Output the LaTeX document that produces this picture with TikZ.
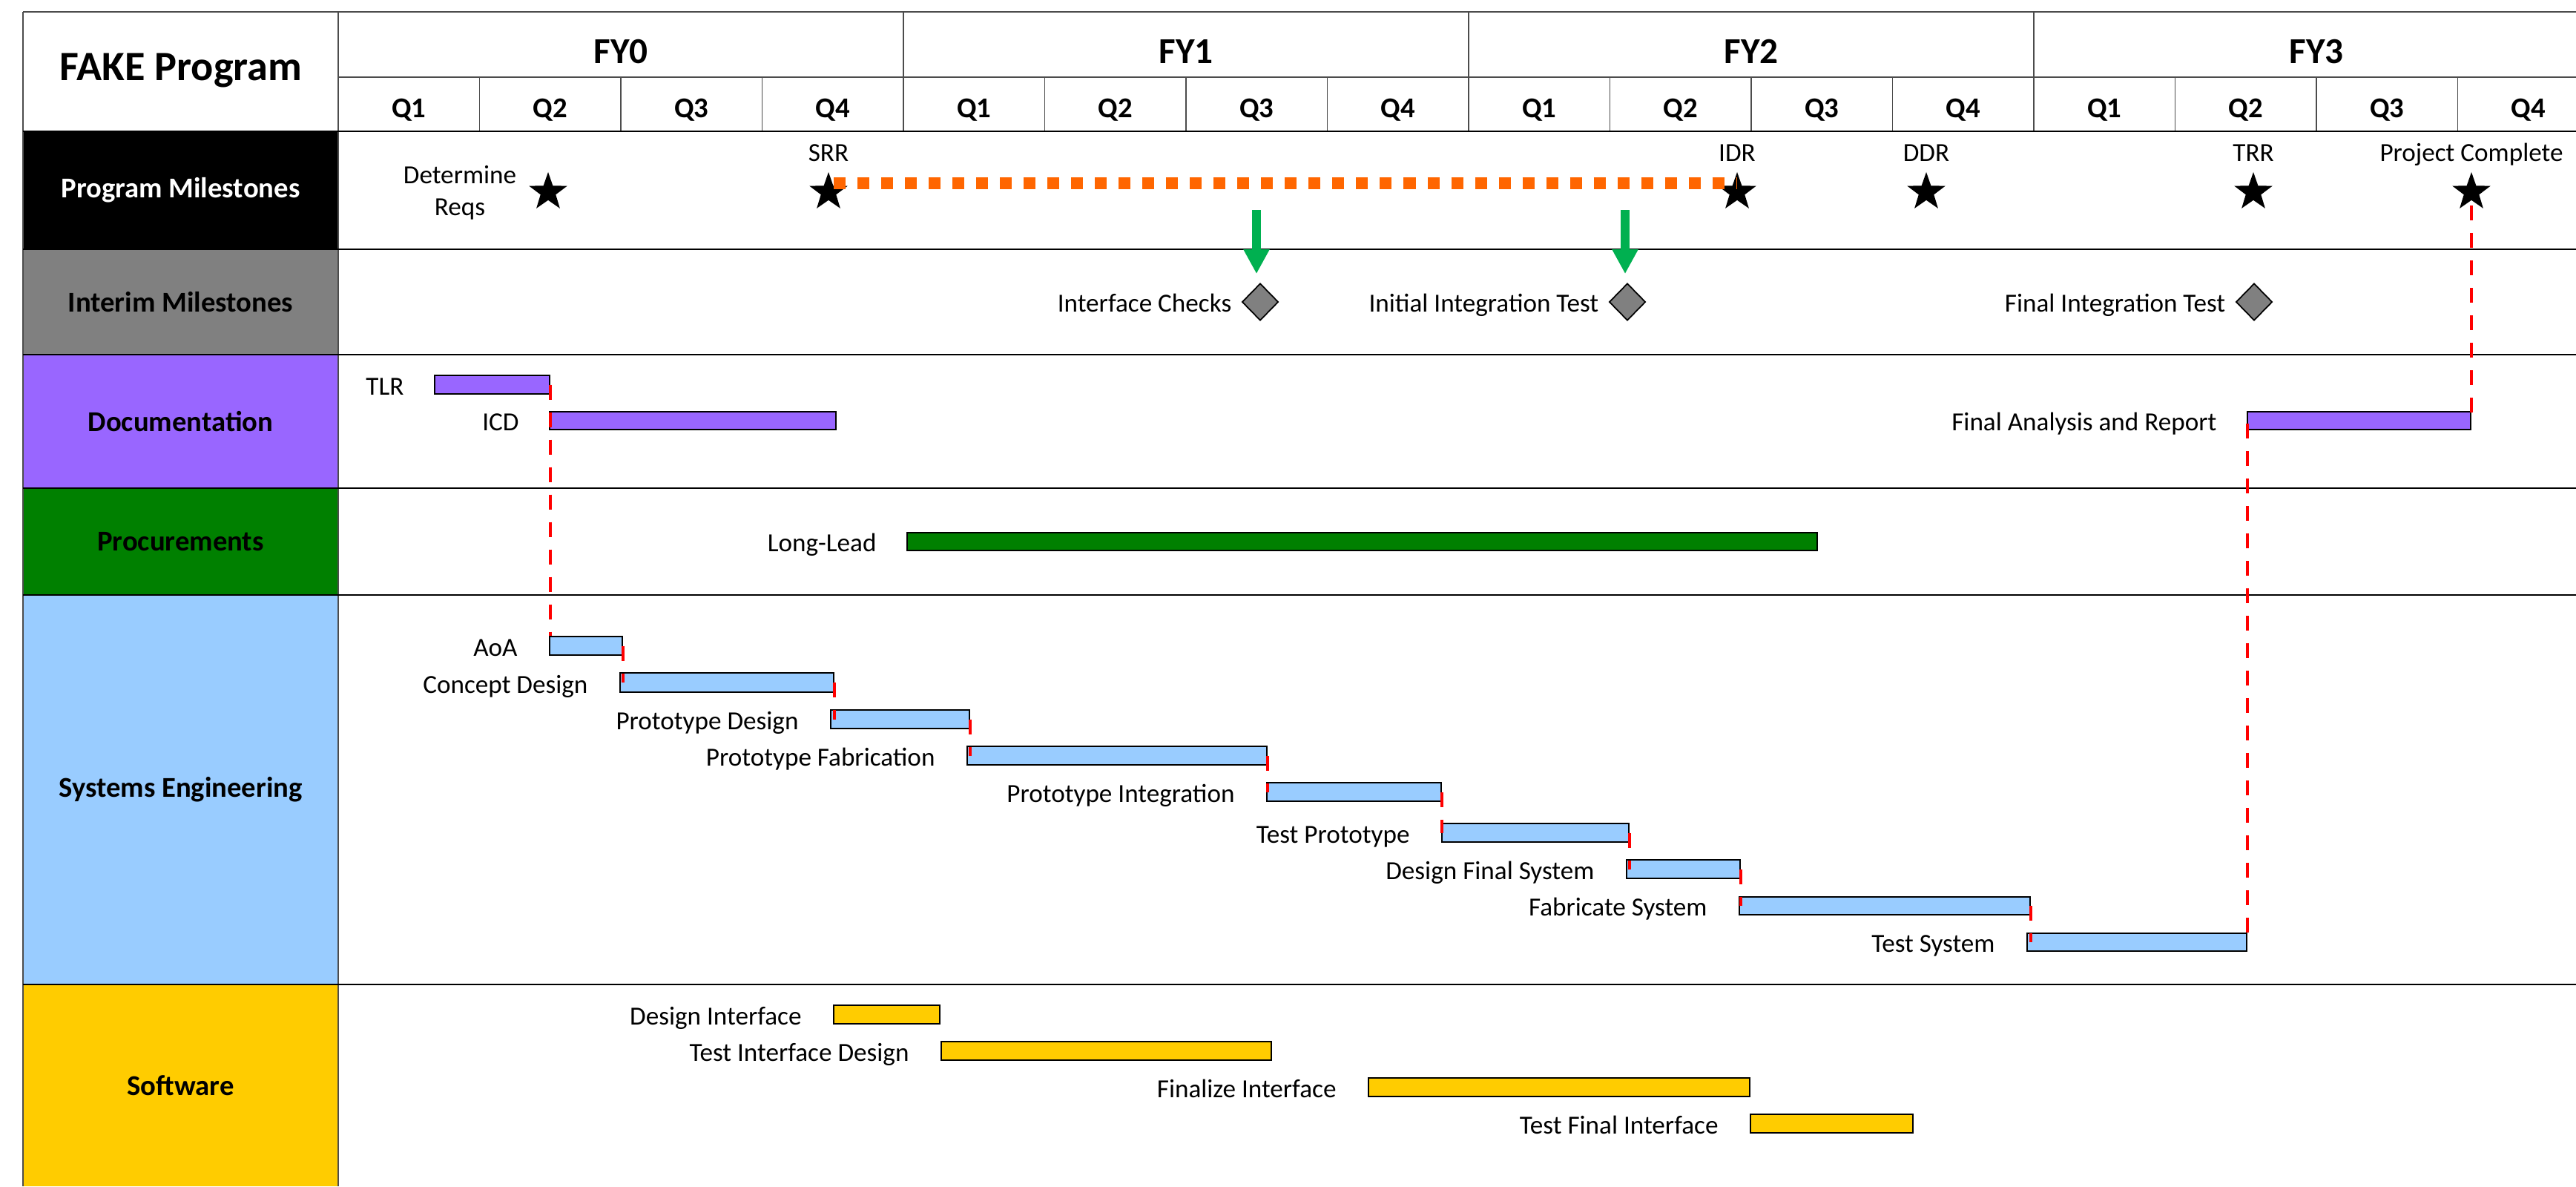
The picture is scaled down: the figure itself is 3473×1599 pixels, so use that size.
\documentclass[tikz,border=0pt]{standalone}
\usepackage{fontspec}
\setmainfont{Carlito}
\usetikzlibrary{shapes.geometric,arrows.meta,fit,positioning}

\definecolor{docpurple}{HTML}{9966FF}
\definecolor{procgreen}{HTML}{008000}
\definecolor{sysblue}{HTML}{99CCFF}
\definecolor{swyellow}{HTML}{FFCC00}
\definecolor{msorange}{HTML}{FF6600}
\definecolor{arrowgreen}{HTML}{00B050}

\tikzset{
    rowline/.style={line width=0.7pt, black},
    gridline/.style={line width=0.35pt, black!70},
    titlelbl/.style={font=\fontsize{16}{19}\selectfont\bfseries, anchor=base},
    fylbl/.style={font=\fontsize{14}{17}\selectfont\bfseries, anchor=base},
    qlbl/.style={font=\fontsize{11}{13}\selectfont\bfseries, anchor=base},
    rowlbl/.style={font=\fontsize{11}{13}\selectfont\bfseries},
    tasklbl/.style={font=\fontsize{10}{12.2}\selectfont, anchor=base east},
    mslbl/.style={font=\fontsize{10}{12.2}\selectfont, anchor=base},
    bar/.style={draw, line width=0.6pt, inner sep=0pt},
    link/.style={red, line width=0.04cm, dash pattern=on 0.2cm off 0.17cm},
    mstar/.style={star, star points=5, star point ratio=2.5, fill=black, inner sep=0pt, minimum size=0.54cm},
    gate/.style={diamond, draw, fill=gray, line width=0.5pt, inner sep=0pt, minimum width=0.49cm, minimum height=0.5cm},
    msdash/.style={msorange, line width=0.155cm, dash pattern=on 0.16cm off 0.16cm},
    grnarrow/.style={arrowgreen, line width=0.12cm, -{Triangle[width=0.33cm,length=0.33cm]}, shorten >=0.12cm}
}

\begin{document}
\begin{tikzpicture}[x=0.01cm, y=-0.01cm]
    \useasboundingbox (0,0) rectangle (3473,1599);
    % Row headers:
    \fill[black] (31,177) rectangle (456,336);
    \fill[gray] (31,336) rectangle (456,478);
    \fill[docpurple] (31,478) rectangle (456,658);
    \fill[procgreen] (31,658) rectangle (456,802);
    \fill[sysblue] (31,802) rectangle (456,1327);
    \fill[swyellow] (31,1327) rectangle (456,1599);
    % Grid:
    \draw[gridline] (31,16) -- (3473,16);
    \draw[gridline] (31,16) -- (31,1599);
    \draw[gridline] (456,16) -- (456,1599);
    \draw[gridline] (456,104) -- (3473,104);
    \draw[gridline] (1218,16) -- (1218,177);
    \draw[gridline] (1980,16) -- (1980,177);
    \draw[gridline] (2742,16) -- (2742,177);
    \draw[gridline] (646.5,104) -- (646.5,177);
    \draw[gridline] (837,104) -- (837,177);
    \draw[gridline] (1027.5,104) -- (1027.5,177);
    \draw[gridline] (1408.5,104) -- (1408.5,177);
    \draw[gridline] (1599,104) -- (1599,177);
    \draw[gridline] (1789.5,104) -- (1789.5,177);
    \draw[gridline] (2170.5,104) -- (2170.5,177);
    \draw[gridline] (2361,104) -- (2361,177);
    \draw[gridline] (2551.5,104) -- (2551.5,177);
    \draw[gridline] (2932.5,104) -- (2932.5,177);
    \draw[gridline] (3123,104) -- (3123,177);
    \draw[gridline] (3313.5,104) -- (3313.5,177);
    \draw[rowline] (31,177) -- (3473,177);
    \draw[rowline] (31,336) -- (3473,336);
    \draw[rowline] (31,478) -- (3473,478);
    \draw[rowline] (31,658) -- (3473,658);
    \draw[rowline] (31,802) -- (3473,802);
    \draw[rowline] (31,1327) -- (3473,1327);
    % Header texts:
    \node[titlelbl] (title) at (244,108) {FAKE Program};
    \node[fylbl] (fy0) at (837,85) {FY0};
    \node[fylbl] (fy1) at (1599,85) {FY1};
    \node[fylbl] (fy2) at (2361,85) {FY2};
    \node[fylbl] (fy3) at (3123,85) {FY3};
    \node[qlbl] (fy0q1) at (551.25,158) {Q1};
    \node[qlbl] (fy0q2) at (741.75,158) {Q2};
    \node[qlbl] (fy0q3) at (932.25,158) {Q3};
    \node[qlbl] (fy0q4) at (1122.75,158) {Q4};
    \node[qlbl] (fy1q1) at (1313.25,158) {Q1};
    \node[qlbl] (fy1q2) at (1503.75,158) {Q2};
    \node[qlbl] (fy1q3) at (1694.25,158) {Q3};
    \node[qlbl] (fy1q4) at (1884.75,158) {Q4};
    \node[qlbl] (fy2q1) at (2075.25,158) {Q1};
    \node[qlbl] (fy2q2) at (2265.75,158) {Q2};
    \node[qlbl] (fy2q3) at (2456.25,158) {Q3};
    \node[qlbl] (fy2q4) at (2646.75,158) {Q4};
    \node[qlbl] (fy3q1) at (2837.25,158) {Q1};
    \node[qlbl] (fy3q2) at (3027.75,158) {Q2};
    \node[qlbl] (fy3q3) at (3218.25,158) {Q3};
    \node[qlbl] (fy3q4) at (3408.75,158) {Q4};
    \node[rowlbl, text=white] (progms) at (243.5,256.5) {Program Milestones};
    \node[rowlbl] (interms) at (243.5,407) {Interim Milestones};
    \node[rowlbl] (docs) at (243.5,568) {Documentation};
    \node[rowlbl] (procs) at (243.5,730) {Procurements};
    \node[rowlbl] (syseng) at (243.5,1064.5) {Systems Engineering};
    \node[rowlbl] (software) at (243.5,1463) {Software};
    % Bars:
    \node[bar, fill=docpurple, fit={(586,506) (741,531)}] (tlr) {};
    \node[tasklbl] at ([xshift=-0.28cm]tlr.south west) {TLR};
    \node[bar, fill=docpurple, fit={(741,555) (1127,579)}] (icd) {};
    \node[tasklbl] at ([xshift=-0.28cm]icd.south west) {ICD};
    \node[bar, fill=docpurple, fit={(3030,555) (3331,579)}] (report) {};
    \node[tasklbl] at ([xshift=-0.28cm]report.south west) {Final Analysis and Report};
    \node[bar, fill=procgreen, fit={(1223,718) (2450,742)}] (longlead) {};
    \node[tasklbl] at ([xshift=-0.28cm]longlead.south west) {Long-Lead};
    \node[bar, fill=sysblue, fit={(741,858) (839,883)}] (aoa) {};
    \node[tasklbl] at ([xshift=-0.3cm]aoa.south west) {AoA};
    \node[bar, fill=sysblue, fit={(836,907) (1124,933)}] (concept) {};
    \node[tasklbl] at ([xshift=-0.3cm]concept.south west) {Concept Design};
    \node[bar, fill=sysblue, fit={(1120,957) (1307,982)}] (protodes) {};
    \node[tasklbl] at ([xshift=-0.3cm]protodes.south west) {Prototype Design};
    \node[bar, fill=sysblue, fit={(1304,1006) (1708,1031)}] (protofab) {};
    \node[tasklbl] at ([xshift=-0.3cm]protofab.south west) {Prototype Fabrication};
    \node[bar, fill=sysblue, fit={(1708,1055) (1943,1080)}] (protoint) {};
    \node[tasklbl] at ([xshift=-0.3cm]protoint.south west) {Prototype Integration};
    \node[bar, fill=sysblue, fit={(1944,1110) (2196,1135)}] (testproto) {};
    \node[tasklbl] at ([xshift=-0.3cm]testproto.south west) {Test Prototype};
    \node[bar, fill=sysblue, fit={(2193,1159) (2346,1184)}] (designfin) {};
    \node[tasklbl] at ([xshift=-0.3cm]designfin.south west) {Design Final System};
    \node[bar, fill=sysblue, fit={(2345,1209) (2737,1233)}] (fabsys) {};
    \node[tasklbl] at ([xshift=-0.3cm]fabsys.south west) {Fabricate System};
    \node[bar, fill=sysblue, fit={(2733,1258) (3029,1282)}] (testsys) {};
    \node[tasklbl] at ([xshift=-0.3cm]testsys.south west) {Test System};
    \node[bar, fill=swyellow, fit={(1124,1355) (1267,1380)}] (designif) {};
    \node[tasklbl] at ([xshift=-0.3cm]designif.south west) {Design Interface};
    \node[bar, fill=swyellow, fit={(1269,1404) (1714,1429)}] (testif) {};
    \node[tasklbl] at ([xshift=-0.3cm]testif.south west) {Test Interface Design};
    \node[bar, fill=swyellow, fit={(1845,1453) (2359,1478)}] (finalif) {};
    \node[tasklbl] at ([xshift=-0.3cm]finalif.south west) {Finalize Interface};
    \node[bar, fill=swyellow, fit={(2360,1502) (2579,1527)}] (testfinal) {};
    \node[tasklbl] at ([xshift=-0.3cm]testfinal.south west) {Test Final Interface};
    % Milestones:
    \node[mstar] (reqs) at (739,259) {};
    \node[font=\fontsize{10}{12.2}\selectfont, align=center] (reqslbl) at (620,260) {Determine\\Reqs};
    \node[mstar] (srr) at (1117,259) {};
    \node[mslbl] at ([yshift=0.41cm]srr.center) {SRR};
    \node[mstar] (idr) at (2342,259) {};
    \node[mslbl] at ([yshift=0.41cm]idr.center) {IDR};
    \node[mstar] (ddr) at (2597,259) {};
    \node[mslbl] at ([yshift=0.41cm]ddr.center) {DDR};
    \node[mstar] (trr) at (3038,259) {};
    \node[mslbl] at ([yshift=0.41cm]trr.center) {TRR};
    \node[mstar] (pcstar) at (3332,259) {};
    \node[mslbl] at ([yshift=0.41cm]pcstar.center) {Project Complete};
    \node[gate] (ifc) at (1699,407) {};
    \node[tasklbl] at ([xshift=-0.01cm,yshift=-0.13cm]ifc.west) {Interface Checks};
    \node[gate] (iit) at (2194,407) {};
    \node[tasklbl] at ([xshift=-0.01cm,yshift=-0.13cm]iit.west) {Initial Integration Test};
    \node[gate] (fintest) at (3039,407) {};
    \node[tasklbl] at ([xshift=-0.01cm,yshift=-0.13cm]fintest.west) {Final Integration Test};
    % Links:
    \draw[link] (tlr.east) -- (tlr.east |- aoa.north);
    \draw[link] (aoa.east) -- (aoa.east |- concept.center);
    \draw[link] (concept.east) -- (concept.east |- protodes.center);
    \draw[link] (protodes.east) -- (protodes.east |- protofab.center);
    \draw[link] (protofab.east) -- (protofab.east |- protoint.center);
    \draw[link] (protoint.east) -- (protoint.east |- testproto.center);
    \draw[link] (testproto.east) -- (testproto.east |- designfin.center);
    \draw[link] (designfin.east) -- (designfin.east |- fabsys.center);
    \draw[link] (fabsys.east) -- (fabsys.east |- testsys.center);
    \draw[link] (testsys.north east) -- (testsys.north east |- report.center);
    \draw[link] ([yshift=-0.18cm]pcstar.center) -- ([yshift=-0.18cm]pcstar.center |- report.north);
    \draw[msdash] ([xshift=0.07cm,yshift=0.12cm]srr.center) -- ([yshift=0.12cm]idr.center);
    \coordinate (ga1) at (1694,283);
    \coordinate (ga2) at (2191,283);
    \draw[grnarrow] (ga1) -- (ga1 |- ifc.north);
    \draw[grnarrow] (ga2) -- (ga2 |- iit.north);
\end{tikzpicture}
\end{document}
